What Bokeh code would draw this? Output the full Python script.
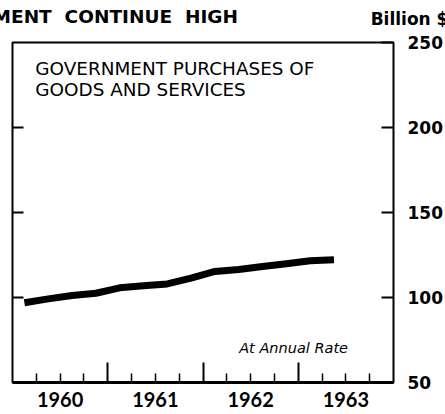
from bokeh.plotting import figure
from bokeh.models import LinearAxis, FixedTicker, Range1d, Label, ColumnDataSource
from bokeh.embed import file_html
from bokeh.resources import INLINE

# ---- data (quarterly, billion $, annual rate) ----
years = [1960, 1960, 1960, 1960, 1961, 1961, 1961, 1961,
         1962, 1962, 1962, 1962, 1963, 1963]
quarters = [1, 2, 3, 4, 1, 2, 3, 4, 1, 2, 3, 4, 1, 2]
purchases = [96.9, 99.2, 101.2, 102.5, 105.7, 106.9, 108.0, 111.4,
             115.3, 116.5, 118.2, 119.8, 121.6, 122.2]

y_ticks = [50, 100, 150, 200, 250]
left_ticks = [100, 150, 200]
year_ticks = [1961, 1962, 1963]
quarter_ticks = [1960.25, 1960.5, 1960.75, 1961.25, 1961.5, 1961.75,
                 1962.25, 1962.5, 1962.75, 1963.25, 1963.5, 1963.75]
year_label_pos = [1960.5, 1961.5, 1962.5, 1963.5]
year_labels = ["1960", "1961", "1962", "1963"]

headline = "MENT  CONTINUE  HIGH"
unit_text = "Billion $"
series_title = ["GOVERNMENT PURCHASES OF", "GOODS AND SERVICES"]
rate_note = "At Annual Rate"

x = [yr + (q - 0.5) / 4 for yr, q in zip(years, quarters)]
src = ColumnDataSource(dict(x=x, y=purchases))

WIDE = "DejaVu Sans"
YEARF = "Lato"

p = figure(width=445, height=414,
           x_range=Range1d(1960, 1964), y_range=Range1d(50, 250),
           x_axis_location=None, y_axis_location=None,
           toolbar_location=None, output_backend="svg",
           min_border_left=12, min_border_right=50,
           min_border_top=42, min_border_bottom=32)
p.grid.visible = False
p.outline_line_color = "black"
p.outline_line_width = 2
p.background_fill_color = "white"
p.border_fill_color = "white"

nb = "\u00a0"
# headline and unit placed in the top border panel (not clipped to the frame)
p.add_layout(Label(x=1959.791, y=265.1, text=headline.replace(" ", nb),
                   text_font=WIDE, text_font_style="bold", text_font_size="18.5px",
                   text_color="black", text_baseline="middle"), "above")
p.add_layout(Label(x=1963.76, y=263.8, text=unit_text.replace(" ", nb),
                   text_font=WIDE, text_font_style="bold", text_font_size="17px",
                   text_color="black", text_baseline="middle"), "above")

# bottom axis: quarter ticks and taller year-boundary ticks, pointing up
ax_b = LinearAxis(ticker=FixedTicker(ticks=year_ticks, minor_ticks=quarter_ticks),
                  major_tick_in=20, major_tick_out=0,
                  minor_tick_in=9, minor_tick_out=0,
                  major_tick_line_width=2, minor_tick_line_width=1.5,
                  axis_line_width=3, axis_line_color="black",
                  major_label_text_font_size="0px", major_label_standoff=0)
p.add_layout(ax_b, "below")

# year labels centred on each year
ax_yr = LinearAxis(ticker=FixedTicker(ticks=year_label_pos, minor_ticks=[]),
                   major_label_overrides={k: v for k, v in zip(year_label_pos, year_labels)},
                   major_tick_in=0, major_tick_out=0,
                   minor_tick_in=0, minor_tick_out=0,
                   axis_line_color=None,
                   major_label_standoff=9,
                   major_label_text_font=YEARF,
                   major_label_text_font_style="bold",
                   major_label_text_font_size="20px",
                   major_label_text_color="black")
p.add_layout(ax_yr, "below")

# right value axis
ax_r = LinearAxis(ticker=FixedTicker(ticks=y_ticks, minor_ticks=[]),
                  major_tick_in=12, major_tick_out=0,
                  minor_tick_in=0, minor_tick_out=0,
                  major_tick_line_width=2,
                  axis_line_color=None,
                  major_label_standoff=14,
                  major_label_text_font=WIDE,
                  major_label_text_font_style="bold",
                  major_label_text_font_size="17px",
                  major_label_text_color="black")
p.add_layout(ax_r, "right")

# left inner ticks only
ax_l = LinearAxis(ticker=FixedTicker(ticks=left_ticks, minor_ticks=[]),
                  major_tick_in=11, major_tick_out=0,
                  minor_tick_in=0, minor_tick_out=0,
                  major_tick_line_width=2,
                  axis_line_color=None,
                  major_label_text_font_size="0px", major_label_standoff=0)
p.add_layout(ax_l, "left")

p.line("x", "y", source=src, line_width=7, line_color="black",
       line_cap="butt", line_join="round")

# texts inside the frame
p.add_layout(Label(x=1960.24, y=235.0, text=series_title[0],
                   text_font=WIDE, text_font_size="18.4px",
                   text_color="black", text_baseline="middle"))
p.add_layout(Label(x=1960.24, y=222.6, text=series_title[1],
                   text_font=WIDE, text_font_size="18.4px",
                   text_color="black", text_baseline="middle"))
p.add_layout(Label(x=1962.38, y=70.3, text=rate_note,
                   text_font=WIDE, text_font_style="italic", text_font_size="14.5px",
                   text_color="black", text_baseline="middle"))

open("out.html", "w").write(file_html(p, INLINE))
